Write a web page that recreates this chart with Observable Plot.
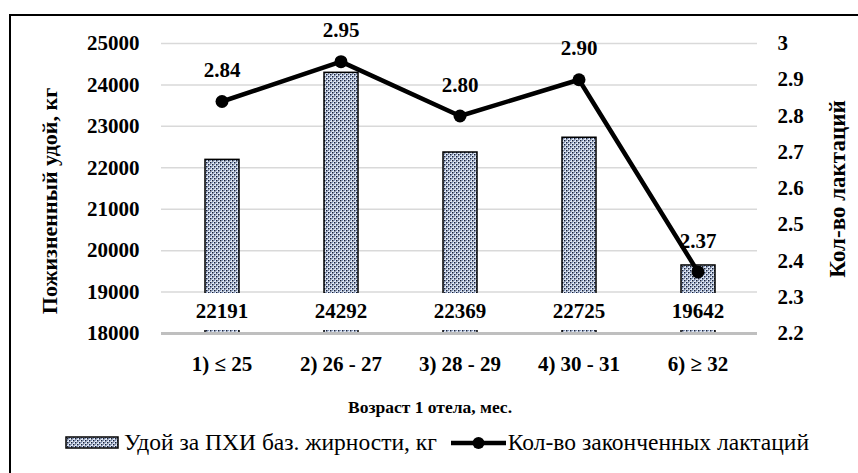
<!DOCTYPE html>
<html>
<head>
<meta charset="utf-8">
<script src="https://cdn.jsdelivr.net/npm/d3@7"></script>
<script src="https://cdn.jsdelivr.net/npm/@observablehq/plot@0.6"></script>
<style>
  html, body { margin: 0; padding: 0; background: #fff; }
  #wrap { position: relative; width: 858px; height: 473px; overflow: hidden; background: #fff; font-family: "Liberation Serif", "Times New Roman", Tinos, "DejaVu Serif", serif; }
  #frame { position: absolute; left: 9px; top: 14px; width: 900px; height: 500px; border: 2px solid #000; box-sizing: border-box; pointer-events: none; }
  #chart { position: absolute; left: 0; top: 0; }
  #legend { position: absolute; left: 65px; top: 429px; display: flex; align-items: center; font-size: 23.5px; color: #000; white-space: nowrap; }
  #legend .item { display: flex; align-items: center; margin-right: 14px; }
  #legend svg { display: block; }
</style>
</head>
<body>
<div id="wrap">
  <div id="chart"></div>
  <div id="frame"></div>
  <div id="legend"></div>
</div>
<script>
// ---- data ----
const categories = ["1) ≤ 25", "2) 26 - 27", "3) 28 - 29", "4) 30 - 31", "6) ≥ 32"];
const milkYield = [22191, 24292, 22369, 22725, 19642];
const lactations = [2.84, 2.95, 2.80, 2.90, 2.37];
const leftTicks = [18000, 19000, 20000, 21000, 22000, 23000, 24000, 25000];
const rightTicks = [2.2, 2.3, 2.4, 2.5, 2.6, 2.7, 2.8, 2.9, 3.0];
const seriesNames = ["Удой за ПХИ баз. жирности, кг", "Кол-во законченных лактаций"];
const leftTitle = "Пожизненный удой, кг";
const rightTitle = "Кол-во лактаций";
const xTitle = "Возраст 1 отела, мес.";

// map right-axis values onto the left scale
const toLeft = d3.scaleLinear([2.2, 3.0], [18000, 25000]);

const rows = categories.map((c, i) => ({
  cat: c, milk: milkYield[i], lac: lactations[i], lacL: toLeft(lactations[i])
}));

const FONT = "'Liberation Serif', 'Times New Roman', Tinos, 'DejaVu Serif', serif";
const boxSymbol = { draw(ctx) { ctx.rect(-39, -18.5, 78, 37); } };

const plot = Plot.plot({
  width: 858,
  height: 473,
  marginTop: 43,
  marginBottom: 140,
  marginLeft: 161,
  marginRight: 101,
  style: { fontFamily: FONT, background: "transparent", overflow: "visible" },
  x: { domain: categories, padding: 0, label: null },
  y: { domain: [18000, 25000], label: null },
  marks: [
    Plot.gridY(leftTicks, { stroke: "#d9d9d9", strokeOpacity: 1, strokeWidth: 1.5 }),
    Plot.barY(rows, { x: "cat", y1: 18000, y2: "milk", fill: "url(#chk)", stroke: "#000", strokeWidth: 1.5, insetLeft: 43, insetRight: 42 }),
    Plot.ruleY([18000], { stroke: "#bfbfbf", strokeWidth: 3 }),
    Plot.dot(rows, { x: "cat", y: () => 18000, dy: -22, symbol: boxSymbol, fill: "#fff", stroke: "none" }),
    Plot.text(rows, { x: "cat", y: () => 18000, dy: -22, text: d => String(d.milk), fontSize: 21, fontWeight: "bold", fill: "#000" }),
    Plot.line(rows, { x: "cat", y: "lacL", stroke: "#000", strokeWidth: 4.5, curve: "linear" }),
    Plot.dot(rows, { x: "cat", y: "lacL", r: 6.5, fill: "#000", stroke: "none" }),
    Plot.text(rows, { x: "cat", y: "lacL", dy: -31, text: d => d.lac.toFixed(2), fontSize: 21, fontWeight: "bold", fill: "#000" }),
    Plot.axisY(leftTicks, { anchor: "left", tickSize: 0, tickPadding: 22, tickFormat: d3.format("d"), fontSize: 21, fontWeight: "bold", label: null }),
    Plot.axisY(rightTicks.map(v => toLeft(v)), { anchor: "right", tickSize: 0, tickPadding: 20, tickFormat: v => String(+toLeft.invert(v).toFixed(1)), fontSize: 21, fontWeight: "bold", label: null }),
    Plot.axisX({ anchor: "bottom", tickSize: 0, tickPadding: 23, fontSize: 21, fontWeight: "bold", label: null })
  ]
});

document.getElementById("chart").appendChild(plot);

// pattern defs
const svg = d3.select(plot);
const defs = svg.insert("defs", ":first-child");
function makePattern(defsSel, id) {
  const p = defsSel.append("pattern").attr("id", id).attr("patternUnits", "userSpaceOnUse").attr("width", 4).attr("height", 4);
  p.append("rect").attr("width", 4).attr("height", 4).attr("fill", "#dfe7f4");
  p.append("rect").attr("x", 0).attr("y", 0).attr("width", 1.5).attr("height", 1.5).attr("fill", "#16203a");
  p.append("rect").attr("x", 2).attr("y", 2).attr("width", 1.5).attr("height", 1.5).attr("fill", "#16203a");
  p.append("rect").attr("x", 2).attr("y", 0).attr("width", 1).attr("height", 1).attr("fill", "#7d93c0");
  p.append("rect").attr("x", 0).attr("y", 2).attr("width", 1).attr("height", 1).attr("fill", "#7d93c0");
}
makePattern(defs, "chk");

// axis titles
svg.append("text").attr("transform", "translate(57,201) rotate(-90)")
  .attr("text-anchor", "middle").attr("font-size", 22).attr("font-weight", "bold").style("font-family", FONT).text(leftTitle);
svg.append("text").attr("transform", "translate(845,189) rotate(-90)")
  .attr("text-anchor", "middle").attr("font-size", 23).attr("font-weight", "bold").style("font-family", FONT).text(rightTitle);
svg.append("text").attr("x", 430).attr("y", 413)
  .attr("text-anchor", "middle").attr("font-size", 17.5).attr("font-weight", "bold").style("font-family", FONT).text(xTitle);

// legend
const legend = d3.select("#legend");
const it1 = legend.append("div").attr("class", "item");
const s1 = it1.append("svg").attr("width", 55).attr("height", 14).style("margin-right", "4px");
makePattern(s1.append("defs"), "chk2");
s1.append("rect").attr("x", 1).attr("y", 1).attr("width", 52).attr("height", 11).attr("fill", "url(#chk2)").attr("stroke", "#000").attr("stroke-width", 1.5);
it1.append("span").text(seriesNames[0]);
const it2 = legend.append("div").attr("class", "item");
const s2 = it2.append("svg").attr("width", 55).attr("height", 14).style("margin-right", "2px");
s2.append("line").attr("x1", 0).attr("x2", 55).attr("y1", 7).attr("y2", 7).attr("stroke", "#000").attr("stroke-width", 4.5);
s2.append("circle").attr("cx", 27.5).attr("cy", 7).attr("r", 6).attr("fill", "#000");
it2.append("span").text(seriesNames[1]);
</script>
</body>
</html>
